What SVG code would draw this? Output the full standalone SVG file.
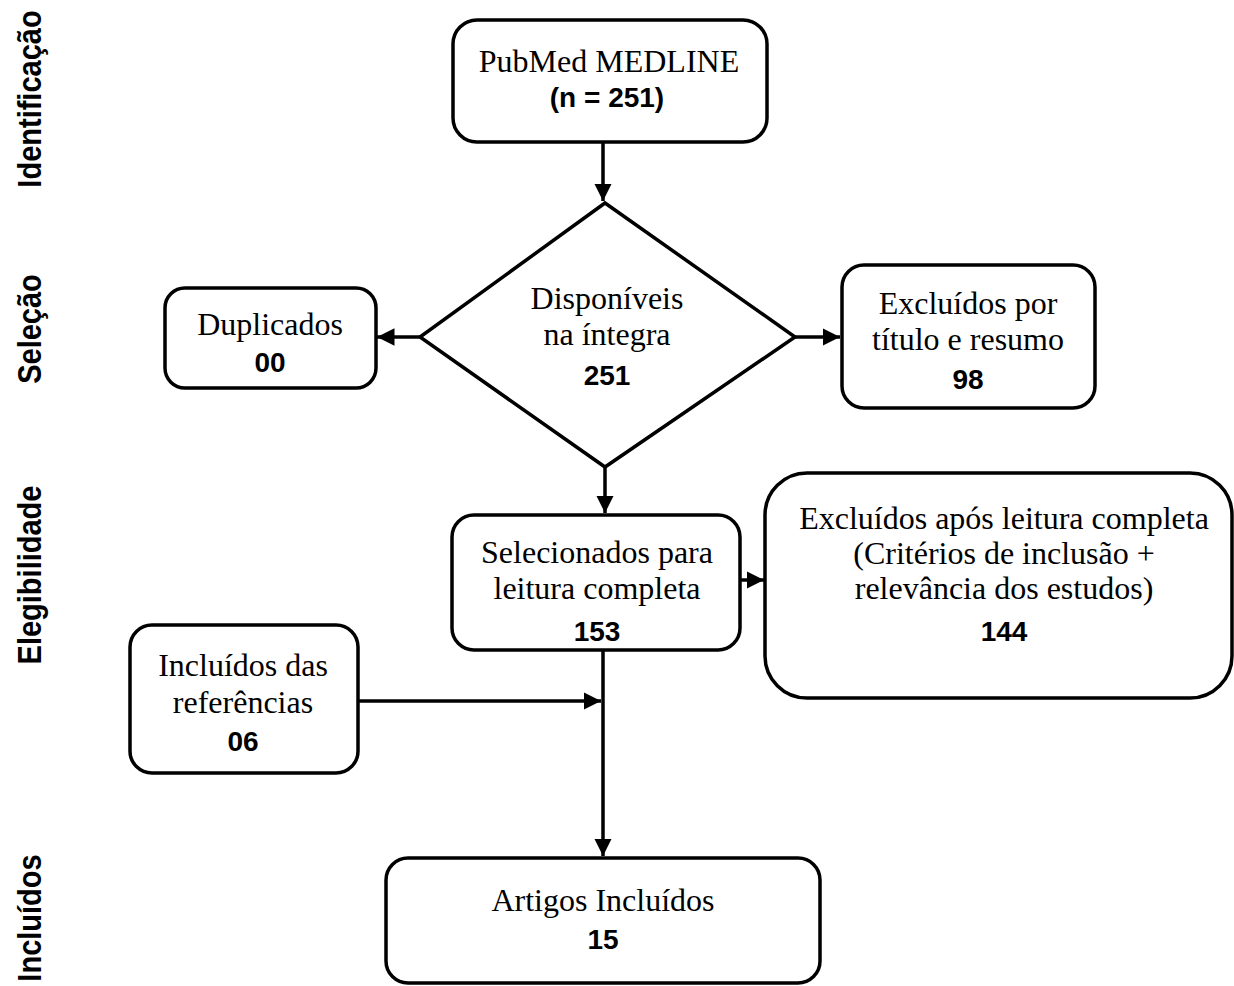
<svg xmlns="http://www.w3.org/2000/svg" width="1234" height="986" viewBox="0 0 1234 986">
<style>
.box{fill:#fff;stroke:#000;stroke-width:3.5}
.t{font-family:"Liberation Serif",serif;font-size:32px;text-anchor:middle;fill:#000}
.n{font-family:"Liberation Sans",sans-serif;font-weight:bold;font-size:28px;text-anchor:middle;fill:#000}
.side{font-family:"Liberation Sans",sans-serif;font-weight:bold;font-size:29px;text-anchor:middle;fill:#000}
.c{stroke:#000;stroke-width:3.5;fill:none}
</style>
<defs>
<marker id="ah" viewBox="0 0 10 10" refX="10" refY="5" markerWidth="5" markerHeight="5" markerUnits="strokeWidth" orient="auto">
<path d="M0,0 L10,5 L0,10 z" fill="#000"/>
</marker>
</defs>
<g id="side-labels">
<text class="side" transform="translate(41,99) rotate(-90) scale(1,1.15)">Identificação</text>
<text class="side" transform="translate(41,329) rotate(-90) scale(1,1.15)">Seleção</text>
<text class="side" transform="translate(41,575) rotate(-90) scale(1,1.15)">Elegibilidade</text>
<text class="side" transform="translate(41,918) rotate(-90) scale(1,1.15)">Incluídos</text>
</g>
<g id="connectors">
<line class="c" x1="603" y1="142" x2="603" y2="201" marker-end="url(#ah)"/>
<line class="c" x1="420" y1="337" x2="377" y2="337" marker-end="url(#ah)"/>
<line class="c" x1="795" y1="337" x2="840" y2="337" marker-end="url(#ah)"/>
<line class="c" x1="605" y1="467" x2="605" y2="513" marker-end="url(#ah)"/>
<line class="c" x1="740" y1="580" x2="764" y2="580" marker-end="url(#ah)"/>
<line class="c" x1="358" y1="701" x2="601" y2="701" marker-end="url(#ah)"/>
<line class="c" x1="603" y1="650" x2="603" y2="856" marker-end="url(#ah)"/>
</g>
<g id="pubmed">
<rect class="box" x="453" y="20" width="314" height="122" rx="24"/>
<text class="t" x="609" y="72">PubMed MEDLINE</text>
<text class="n" x="607" y="107">(n = 251)</text>
</g>
<g id="disponiveis">
<polygon class="box" points="605,203 795,337 605,467 420,337"/>
<text class="t" x="607" y="309">Disponíveis</text>
<text class="t" x="607" y="345">na íntegra</text>
<text class="n" x="607" y="385">251</text>
</g>
<g id="duplicados">
<rect class="box" x="165" y="288" width="211" height="100" rx="20"/>
<text class="t" x="270" y="335">Duplicados</text>
<text class="n" x="270" y="372">00</text>
</g>
<g id="excluidos-titulo">
<rect class="box" x="842" y="265" width="253" height="143" rx="22"/>
<text class="t" x="968" y="314">Excluídos por</text>
<text class="t" x="968" y="350">título e resumo</text>
<text class="n" x="968" y="389">98</text>
</g>
<g id="selecionados">
<rect class="box" x="452" y="515" width="288" height="135" rx="22"/>
<text class="t" x="597" y="563">Selecionados para</text>
<text class="t" x="597" y="599">leitura completa</text>
<text class="n" x="597" y="641">153</text>
</g>
<g id="excluidos-leitura">
<rect class="box" x="765" y="473" width="467" height="225" rx="42"/>
<text class="t" x="1004" y="529">Excluídos após leitura completa</text>
<text class="t" x="1004" y="564">(Critérios de inclusão +</text>
<text class="t" x="1004" y="599">relevância dos estudos)</text>
<text class="n" x="1004" y="641">144</text>
</g>
<g id="incluidos-ref">
<rect class="box" x="130" y="625" width="228" height="148" rx="22"/>
<text class="t" x="243" y="676">Incluídos das</text>
<text class="t" x="243" y="713">referências</text>
<text class="n" x="243" y="751">06</text>
</g>
<g id="artigos">
<rect class="box" x="386" y="858" width="434" height="125" rx="22"/>
<text class="t" x="603" y="911">Artigos Incluídos</text>
<text class="n" x="603" y="949">15</text>
</g>
</svg>
